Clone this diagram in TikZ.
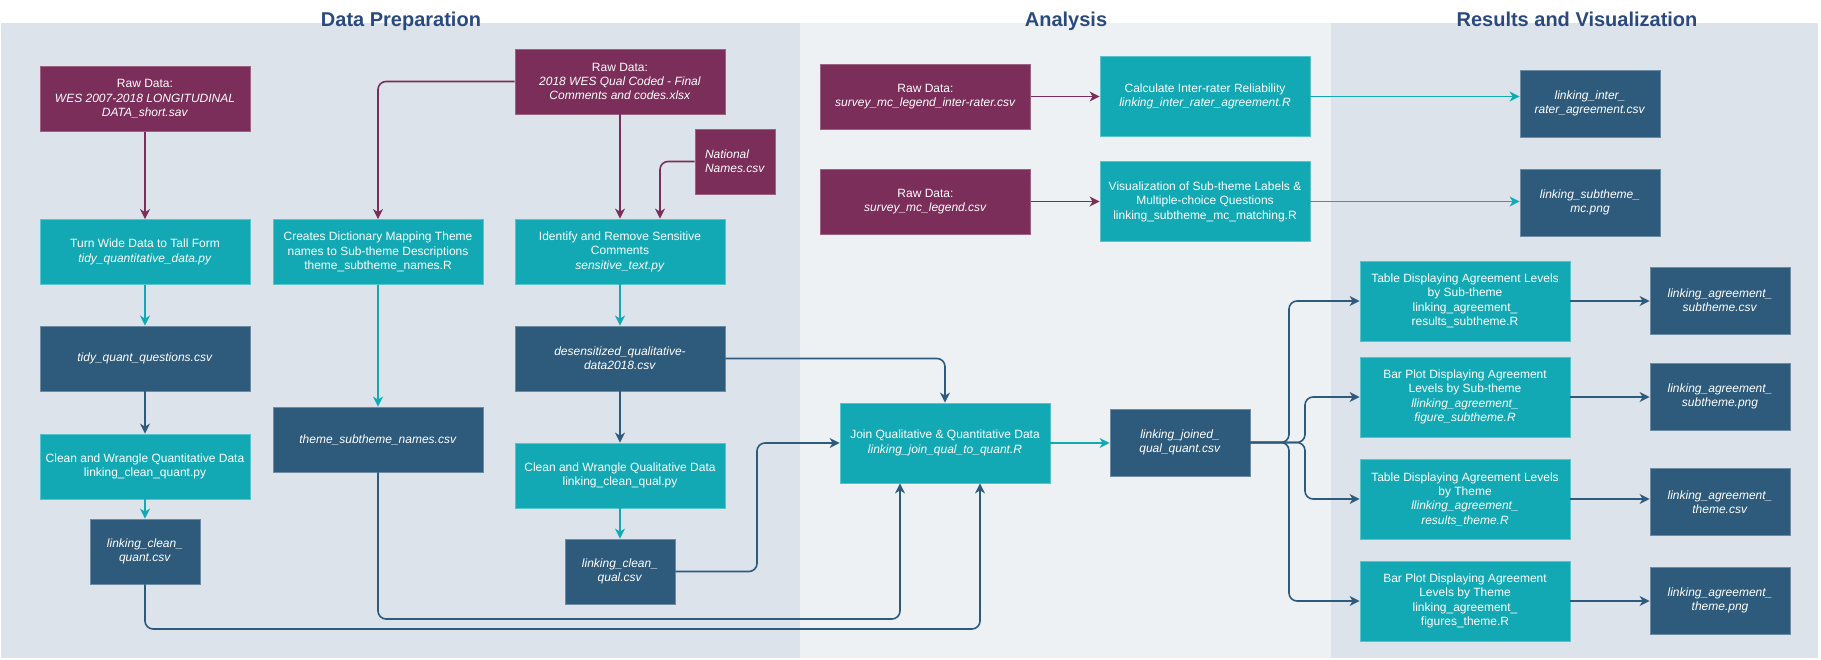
\documentclass[tikz,border=0pt]{standalone}
\usepackage{fontspec}
\setmainfont{Liberation Sans}
\usetikzlibrary{arrows.meta}
\definecolor{wine}{HTML}{7B2E59}
\definecolor{stepteal}{HTML}{12A9B5}
\definecolor{slate}{HTML}{2E5B7C}
\definecolor{headblue}{HTML}{2A4A7F}
\definecolor{prepbg}{HTML}{DCE3EA}
\definecolor{analbg}{HTML}{EDF1F4}
\begin{document}
\begin{tikzpicture}[x=1pt, y=-1pt,
    chartbox/.style={draw, line width=0.8pt, text=white, align=center, inner sep=2pt,
        minimum width=210pt, minimum height=65pt, font=\fontsize{12}{14.4}\selectfont},
    rawbox/.style={chartbox, fill=wine, draw=wine!75!white},
    stepbox/.style={chartbox, fill=stepteal, draw=stepteal!70!white},
    filebox/.style={chartbox, fill=slate, draw=slate!70!white},
    headline/.style={anchor=base, text=headblue, font=\fontsize{20}{24}\selectfont\bfseries},
    flow/.style={line width=1.6pt, rounded corners=8pt, -{Stealth[length=10pt, width=10pt, inset=3pt]}},
    rawflow/.style={flow, draw=wine},
    stepflow/.style={flow, draw=stepteal},
    fileflow/.style={flow, draw=slate}]
    \useasboundingbox (0,0) rectangle (1821,660);
    \fill[prepbg] (1,23) rectangle (800,658);
    \fill[analbg] (800,23) rectangle (1331,658);
    \fill[prepbg] (1331,23) rectangle (1818,658);

    \node[headline] (PrepHead) at (401,27) {Data Preparation};
    \node[headline] (AnalHead) at (1066,27) {Analysis};
    \node[headline] (ResHead) at (1577,27) {Results and Visualization};

    \node[rawbox] (RawW) at (145,99) {Raw Data:\\ \textit{WES 2007-2018 LONGITUDINAL}\\ \textit{DATA\_short.sav}};
    \node[stepbox] (Tidy) at (145,252) {Turn Wide Data to Tall Form\\ \textit{tidy\_quantitative\_data.py}};
    \node[filebox] (TidyQ) at (145,358.5) {\textit{tidy\_quant\_questions.csv}};
    \node[stepbox] (CleanQn) at (145,466.5) {Clean and Wrangle Quantitative Data\\ linking\_clean\_quant.py};
    \node[filebox, minimum width=110pt] (CleanQnCsv) at (145,551.5) {\textit{linking\_clean\_}\\ \textit{quant.csv}};

    \node[stepbox] (Dict) at (378,252) {Creates Dictionary Mapping Theme\\ names to Sub-theme Descriptions\\ theme\_subtheme\_names.R};
    \node[filebox] (ThemeCsv) at (378,439.5) {\textit{theme\_subtheme\_names.csv}};

    \node[rawbox] (RawQ) at (620,81.5) {Raw Data:\\ \textit{2018 WES Qual Coded - Final}\\ \textit{Comments and codes.xlsx}};
    \node[rawbox, minimum width=80pt, align=left] (Natl) at (735,161.5) {\textit{National}\\ \textit{Names.csv}};
    \node[stepbox] (Sens) at (620,251.5) {Identify and Remove Sensitive\\ Comments\\ \textit{sensitive\_text.py}};
    \node[filebox] (Desens) at (620,358.5) {\textit{desensitized\_qualitative-}\\ \textit{data2018.csv}};
    \node[stepbox] (CleanQl) at (620,475.5) {Clean and Wrangle Qualitative Data\\ linking\_clean\_qual.py};
    \node[filebox, minimum width=110pt] (CleanQlCsv) at (620,571.5) {\textit{linking\_clean\_}\\ \textit{qual.csv}};

    \node[rawbox] (RawIR) at (925.5,96.5) {Raw Data:\\ \textit{survey\_mc\_legend\_inter-rater.csv}};
    \node[rawbox] (RawMC) at (925.5,201.5) {Raw Data:\\ \textit{survey\_mc\_legend.csv}};
    \node[stepbox, minimum height=80pt] (IRR) at (1205,96.5) {Calculate Inter-rater Reliability\\ \textit{linking\_inter\_rater\_agreement.R}};
    \node[stepbox, minimum height=80pt] (VisMC) at (1205,201.5) {Visualization of Sub-theme Labels \&\\ Multiple-choice Questions\\ linking\_subtheme\_mc\_matching.R};
    \node[stepbox, minimum height=80pt] (Join) at (945,443) {Join Qualitative \& Quantitative Data\\ \textit{linking\_join\_qual\_to\_quant.R}};
    \node[filebox, minimum width=140pt, minimum height=67pt] (Joined) at (1180,442.5) {\textit{linking\_joined\_}\\ \textit{qual\_quant.csv}};

    \node[filebox, minimum width=140pt, minimum height=67pt] (IRRCsv) at (1590,103.5) {\textit{linking\_inter\_}\\ \textit{rater\_agreement.csv}};
    \node[filebox, minimum width=140pt, minimum height=67pt] (MCPng) at (1590,202.5) {\textit{linking\_subtheme\_}\\ \textit{mc.png}};

    \node[stepbox, minimum height=80pt] (TabSub) at (1465,301) {Table Displaying Agreement Levels\\ by Sub-theme\\ linking\_agreement\_\\ results\_subtheme.R};
    \node[stepbox, minimum height=80pt] (BarSub) at (1465,397) {Bar Plot Displaying Agreement\\ Levels by Sub-theme\\ \textit{llinking\_agreement\_}\\ \textit{figure\_subtheme.R}};
    \node[stepbox, minimum height=80pt] (TabTh) at (1465,499) {Table Displaying Agreement Levels\\ by Theme\\ \textit{llinking\_agreement\_}\\ \textit{results\_theme.R}};
    \node[stepbox, minimum height=80pt] (BarTh) at (1465,601) {Bar Plot Displaying Agreement\\ Levels by Theme\\ linking\_agreement\_\\ figures\_theme.R};

    \node[filebox, minimum width=140pt, minimum height=67pt] (SubCsv) at (1720,300.5) {\textit{linking\_agreement\_}\\ \textit{subtheme.csv}};
    \node[filebox, minimum width=140pt, minimum height=67pt] (SubPng) at (1720,396.5) {\textit{linking\_agreement\_}\\ \textit{subtheme.png}};
    \node[filebox, minimum width=140pt, minimum height=67pt] (ThCsv) at (1720,502) {\textit{linking\_agreement\_}\\ \textit{theme.csv}};
    \node[filebox, minimum width=140pt, minimum height=67pt] (ThPng) at (1720,600.5) {\textit{linking\_agreement\_}\\ \textit{theme.png}};

    \coordinate (QlJog) at (757,571.5);
    \coordinate (BusTheme) at (900,619);
    \coordinate (BusQuant) at (980,629);
    \coordinate (ForkOut) at (1289,442.5);
    \coordinate (ForkIn) at (1305,442.5);

    \draw[rawflow] (RawW.south) -- (Tidy.north);
    \draw[rawflow] (RawQ.west) -| (Dict.north);
    \draw[rawflow] (RawQ.south) -- (Sens.north);
    \draw[rawflow] (Natl.west) -| ([xshift=40pt]Sens.north);
    \draw[rawflow] (RawIR.east) -- (RawIR.east -| IRR.west);
    \draw[rawflow] (RawMC.east) -- (RawMC.east -| VisMC.west);

    \draw[stepflow] (Tidy.south) -- (TidyQ.north);
    \draw[stepflow] (CleanQn.south) -- (CleanQnCsv.north);
    \draw[stepflow] (Dict.south) -- (ThemeCsv.north);
    \draw[stepflow] (Sens.south) -- (Desens.north);
    \draw[stepflow] (CleanQl.south) -- (CleanQlCsv.north);
    \draw[stepflow] (Join.east) -- (Join.east -| Joined.west);
    \draw[stepflow] (IRR.east) -- (IRR.east -| IRRCsv.west);
    \draw[stepflow] (VisMC.east) -- (VisMC.east -| MCPng.west);

    \draw[fileflow] (TidyQ.south) -- (CleanQn.north);
    \draw[fileflow] (Desens.south) -- (CleanQl.north);
    \draw[fileflow] (Desens.east) -| (Join.north);
    \draw[fileflow] (CleanQlCsv.east) -- (QlJog) |- (Join.west);
    \draw[fileflow] (ThemeCsv.south) |- (BusTheme) -- (BusTheme |- Join.south);
    \draw[fileflow] (CleanQnCsv.south) |- (BusQuant) -- (BusQuant |- Join.south);

    \draw[fileflow] (Joined.east) -- (ForkOut) |- (TabSub.west);
    \draw[fileflow] (Joined.east) -- (ForkIn) |- (BarSub.west);
    \draw[fileflow] (Joined.east) -- (ForkIn) |- (TabTh.west);
    \draw[fileflow] (Joined.east) -- (ForkOut) |- (BarTh.west);

    \draw[fileflow] (TabSub.east) -- (TabSub.east -| SubCsv.west);
    \draw[fileflow] (BarSub.east) -- (BarSub.east -| SubPng.west);
    \draw[fileflow] (TabTh.east) -- (TabTh.east -| ThCsv.west);
    \draw[fileflow] (BarTh.east) -- (BarTh.east -| ThPng.west);
\end{tikzpicture}
\end{document}
